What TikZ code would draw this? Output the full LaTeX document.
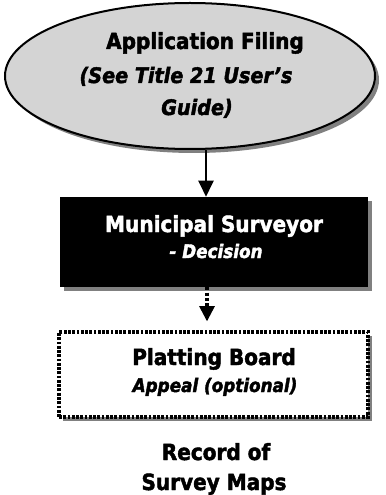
\documentclass[tikz,border=0pt]{standalone}
\usepackage{fontspec}
\setmainfont{DejaVu Sans}[BoldFeatures={FakeBold=2,FakeStretch=0.9},BoldItalicFeatures={FakeBold=2,FakeStretch=0.9}]
\usetikzlibrary{shapes.geometric,arrows.meta}
\definecolor{ellfill}{RGB}{212,212,212}
\definecolor{shadowgray}{RGB}{128,128,128}
\begin{document}
\begin{tikzpicture}[x=0.75pt,y=-0.75pt,
  bigtxt/.style={anchor=base,inner sep=0pt,font=\fontsize{16.7}{19}\selectfont\bfseries},
  ittxt/.style={anchor=base,inner sep=0pt,font=\fontsize{16}{18}\selectfont\bfseries\itshape},
  subtxt/.style={anchor=base,inner sep=0pt,font=\fontsize{14}{16}\selectfont\bfseries\itshape},
  shadowshape/.style={fill=shadowgray,draw=none},
  ellshape/.style={ellipse,inner sep=0pt,minimum width=277.5pt,minimum height=109.5pt},
  boxshape/.style={rectangle,inner sep=0pt,minimum width=231pt,minimum height=67.5pt},
  solidarrow/.style={line width=1.5pt,-{Triangle[width=11.25pt,length=12pt]}},
  dotarrow/.style={line width=2.4pt,dash pattern=on 2.4pt off 1.6pt,-{Triangle[width=11.25pt,length=11.5pt]}},
  dotbox/.style={draw=black,line width=2.4pt,dash pattern=on 2.1pt off 1.1pt,fill=white}]
\useasboundingbox (0,0) rectangle (385,495);
% ellipse
\node[ellshape,shadowshape] (ellsh) at (194,80) {};
\node[ellshape,fill=ellfill,draw=black,line width=1.5pt] (ell) at (190,76) {};
\node[bigtxt] (t1) at (205,49) {Application Filing};
\node[ittxt] (t2) at (186,83) {(See Title 21 User’s};
\node[ittxt] (t3) at (197,115) {Guide)};
% black box
\node[boxshape,shadowshape] (mboxsh) at (218,246) {};
\node[boxshape,fill=black] (mbox) at (214,242) {};
\node[bigtxt,text=white] (m1) at (214,232) {Municipal Surveyor};
\node[subtxt,text=white] (m2) at (216,258) {- Decision};
% dotted box
\node[rectangle,inner sep=0pt,minimum width=231.75pt,minimum height=63.75pt,shadowshape] (pboxsh) at (217.5,378.5) {};
\node[rectangle,inner sep=0pt,minimum width=231.75pt,minimum height=63.75pt,dotbox] (pbox) at (213.5,374.5) {};
\node[bigtxt] (p1) at (214,365) {Platting Board};
\node[subtxt] (p2) at (215,392) {Appeal (optional)};
% record
\node[bigtxt] (r1) at (216,460) {Record of};
\node[bigtxt] (r2) at (214,490) {Survey Maps};
% arrows
\coordinate (ax1) at (206,0);
\coordinate (ax2) at (207,0);
\draw[solidarrow] (ell.south -| ax1) -- (mbox.north -| ax1);
\draw[dotarrow,shorten >=6.75pt] (mbox.south -| ax2) -- (pbox.north -| ax2);
\end{tikzpicture}
\end{document}
